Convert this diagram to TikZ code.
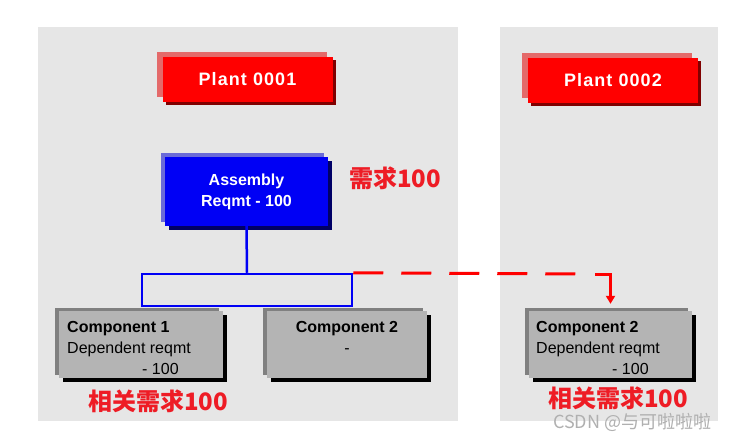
\documentclass[tikz,border=0pt]{standalone}
\usepackage{fontspec}
\setmainfont{Liberation Sans}
\newfontfamily\cjk{Noto Sans CJK SC}
\usetikzlibrary{shadows,arrows.meta}
\definecolor{panel}{HTML}{E6E6E6}
\definecolor{plantred}{HTML}{FF0000}
\definecolor{plantlight}{HTML}{E46A6A}
\definecolor{plantdark}{HTML}{800000}
\definecolor{asmblue}{HTML}{0000F5}
\definecolor{asmlight}{HTML}{6A6AD8}
\definecolor{asmdark}{HTML}{000066}
\definecolor{compgray}{HTML}{B4B4B4}
\definecolor{complight}{HTML}{808080}
\definecolor{notered}{HTML}{EE1C25}
\definecolor{wmark}{HTML}{B0B0B0}
\tikzset{
  plantbox/.style={fill=plantred, minimum width=170pt, minimum height=45pt, inner sep=0pt,
    text=white, font=\fontsize{18}{20}\selectfont\bfseries\addfontfeatures{LetterSpace=6},
    general shadow={shadow xshift=-6pt, shadow yshift=5pt, fill=plantlight},
    general shadow={shadow xshift=3pt, shadow yshift=-3pt, fill=plantdark}},
  asmbox/.style={fill=asmblue, minimum width=163pt, minimum height=69pt, inner sep=0pt,
    text=white, align=center, font=\fontsize{16}{21}\selectfont\bfseries,
    general shadow={shadow xshift=-4pt, shadow yshift=4pt, fill=asmlight},
    general shadow={shadow xshift=4pt, shadow yshift=-4pt, fill=asmdark}},
  compbox/.style={fill=compgray, minimum height=67pt, inner sep=0pt,
    general shadow={shadow xshift=-4pt, shadow yshift=3pt, fill=complight},
    general shadow={shadow xshift=4pt, shadow yshift=-4pt, fill=black}},
  bold16/.style={font=\fontsize{16}{19}\selectfont\bfseries, inner sep=0pt},
  reg16/.style={font=\fontsize{16}{19}\selectfont, inner sep=0pt},
  note/.style={text=notered, font=\fontsize{24}{26}\selectfont\cjk\bfseries, inner sep=0pt},
  dashlink/.style={plantred, line width=3pt, dash pattern=on 30pt off 18pt},
  linkend/.style={plantred, line width=3pt, -{Triangle[width=9pt,length=8pt]}},
}
\begin{document}
\begin{tikzpicture}[x=1pt,y=-1pt]
\useasboundingbox (0,0) rectangle (739,439);
\fill[white] (0,0) rectangle (739,439);
% panels
\fill[panel] (38,27) rectangle (458,421);
\fill[panel] (500,27) rectangle (718,421);
% plants
\node[plantbox] (p1) at (247.5,79.5) {Plant 0001};
\node[plantbox] (p2) at (613,80) {Plant 0002};
% assembly
\node[asmbox] (asm) at (246.5,191.5) {Assembly\\Reqmt - 100};
\node[note, anchor=west] (n1) at (349,178) {需求100};
% components
\node[compbox, minimum width=164pt] (c1) at (141,344.5) {};
\node[compbox, minimum width=160pt] (c2) at (347,344.5) {};
\node[compbox, minimum width=163pt] (c3) at (610.5,344.5) {};
% bar
\node[draw=asmblue, line width=2.5pt, minimum width=210pt, minimum height=32pt, inner sep=0pt] (bar) at (247,290) {};
\draw[asmblue, line width=2.5pt] (asm.south) -- (bar.north);
% dashed link
\coordinate (ka) at (576,274);
\coordinate (kb) at (595,274);
\draw[dashlink] (bar.north east) -- (ka);
\draw[linkend, shorten >=7pt] (kb) -| (c3.north);
% component texts
\node[bold16, anchor=base west] (c1a) at (67,332) {Component 1};
\node[reg16, anchor=base west] (c1b) at (67,353) {Dependent reqmt};
\node[reg16, anchor=base west] (c1c) at (142,374) {- 100};
\node[bold16, anchor=base] (c2a) at (347,332) {Component 2};
\node[reg16, anchor=base] (c2b) at (347,353) {-};
\node[bold16, anchor=base west] (c3a) at (536,332) {Component 2};
\node[reg16, anchor=base west] (c3b) at (536,353) {Dependent reqmt};
\node[reg16, anchor=base west] (c3c) at (612,374) {- 100};
% notes
\node[note, anchor=west] (n2) at (88,401) {相关需求100};
\node[note, anchor=west] (n3) at (548,398) {相关需求100};
% watermark
\node[anchor=west, inner sep=0pt, text=wmark, font=\fontsize{18}{20}\selectfont\cjk] (wm) at (553,422) {CSDN @与可啦啦啦};
\end{tikzpicture}
\end{document}
